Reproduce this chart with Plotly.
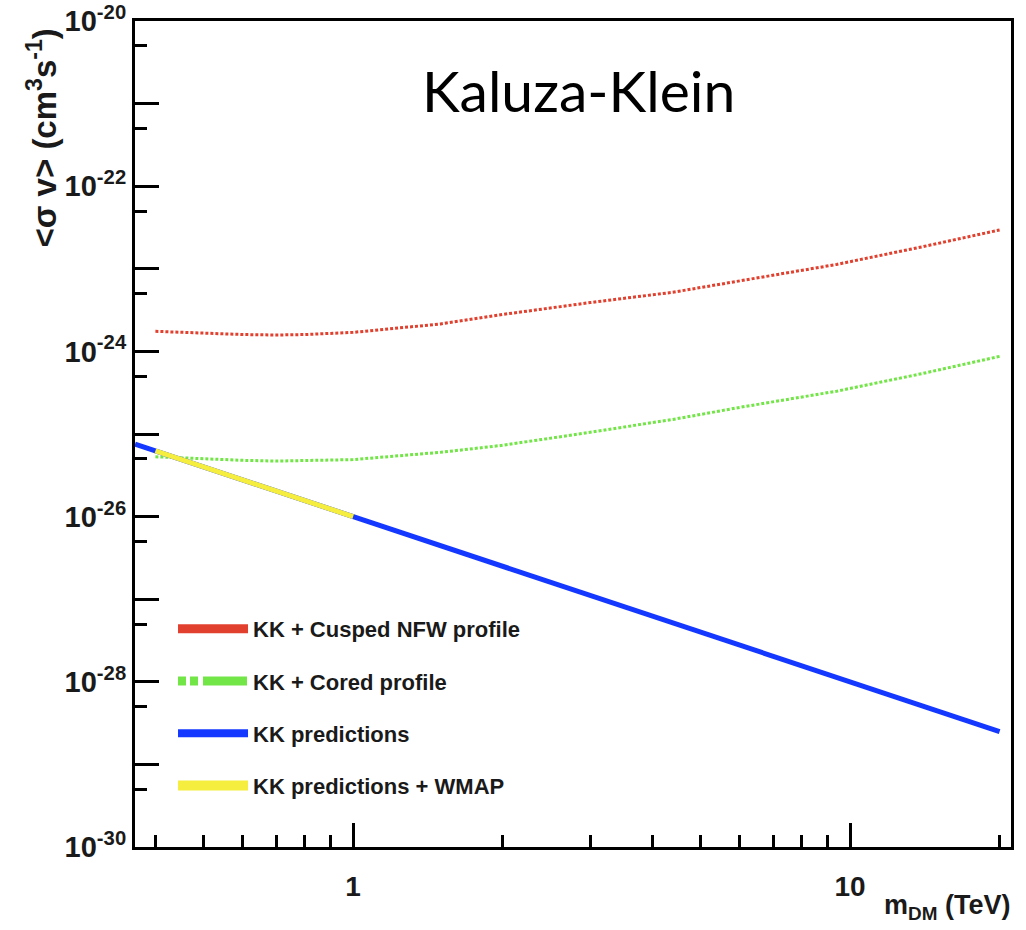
import plotly.graph_objects as go

# ---- data ----
m_red = [0.4, 0.5, 0.6, 0.7, 0.8, 1.0, 1.5, 2.0, 3.0, 4.4, 6.0, 9.4, 14, 20]
sv_red = [1.75e-24, 1.65e-24, 1.6e-24, 1.58e-24, 1.6e-24, 1.7e-24, 2.15e-24,
          2.8e-24, 3.9e-24, 5.2e-24, 7.1e-24, 1.13e-23, 1.85e-23, 2.95e-23]

m_green = [0.4, 0.5, 0.6, 0.7, 0.8, 1.0, 1.5, 2.0, 3.0, 4.4, 6.0, 9.4, 14, 20]
sv_green = [5.3e-26, 5.0e-26, 4.8e-26, 4.7e-26, 4.75e-26, 4.9e-26, 6.0e-26,
            7.3e-26, 1.05e-25, 1.5e-25, 2.1e-25, 3.3e-25, 5.4e-25, 8.7e-25]

m_blue = [0.364, 1.0, 20]
sv_blue = [7.55e-26, 1.0e-26, 2.5e-29]

m_yellow = [0.4, 1.0]
sv_yellow = [6.25e-26, 1.0e-26]

legend_names = ["KK + Cusped NFW profile", "KK + Cored profile",
                "KK predictions", "KK predictions + WMAP"]

y_major = [10.0 ** e for e in range(-30, -19)]
y_major_text = ["<b>10<sup>%d</sup></b>" % e if e % 2 == 0 else "" for e in range(-30, -19)]
y_minor = [5 * 10.0 ** e for e in range(-30, -20)]
x_major = [1, 10]
x_major_text = ["<b>1</b>", "<b>10</b>"]
x_minor = [0.4, 0.5, 0.6, 0.7, 0.8, 0.9, 2, 3, 4, 5, 6, 7, 8, 9, 20]

RED = "#e2402e"
GREEN = "#72e646"
BLUE = "#1438ff"
YELLOW = "#f6ee3e"
TXT = "#1a1a1a"

fig = go.Figure()

# plotted curves
fig.add_trace(go.Scatter(x=m_red, y=sv_red, mode="lines", showlegend=False,
                         line=dict(color=RED, width=3, dash="3px,2px")))
fig.add_trace(go.Scatter(x=m_green, y=sv_green, mode="lines", showlegend=False,
                         line=dict(color=GREEN, width=3, dash="3px,2px")))
fig.add_trace(go.Scatter(x=m_blue, y=sv_blue, mode="lines", showlegend=False,
                         line=dict(color=BLUE, width=5)))
fig.add_trace(go.Scatter(x=m_yellow, y=sv_yellow, mode="lines", showlegend=False,
                         line=dict(color=YELLOW, width=5)))

# legend entries
leg_styles = [
    dict(color=RED, width=9),
    dict(color=GREEN, width=9, dash="8px,4px,8px,5px,44px,200px"),
    dict(color=BLUE, width=8),
    dict(color=YELLOW, width=10),
]
for i, (name, st) in enumerate(zip(legend_names, leg_styles)):
    fig.add_trace(go.Scatter(x=[None], y=[None], mode="lines", name="<b>%s</b>" % name,
                             line=st, legendgroup="g%d" % i))

axis_common = dict(showline=True, linecolor="black", linewidth=3, mirror=True,
                   showgrid=False, zeroline=False, ticks="inside", ticklen=24,
                   tickwidth=3, tickcolor="black", automargin=False)

fig.update_xaxes(type="log", range=[-0.439, 1.324], tickmode="array",
                 tickvals=x_major, ticktext=x_major_text,
                 tickfont=dict(family="Liberation Sans", size=28, color=TXT),
                 ticklabelstandoff=12,
                 minor=dict(tickmode="array", tickvals=x_minor, ticks="inside",
                            ticklen=12, tickwidth=3, tickcolor="black"),
                 **axis_common)
fig.update_yaxes(type="log", range=[-30, -20], tickmode="array",
                 tickvals=y_major, ticktext=y_major_text,
                 tickfont=dict(family="Liberation Sans", size=29, color=TXT),
                 minor=dict(tickmode="array", tickvals=y_minor, ticks="inside",
                            ticklen=12, tickwidth=3, tickcolor="black"),
                 **axis_common)

fig.add_annotation(text="Kaluza-Klein", xref="paper", yref="paper",
                   x=0.506, y=0.917, xanchor="center", yanchor="middle", showarrow=False,
                   font=dict(family="Lato", size=57, color="black"))
fig.add_annotation(text="<b>&lt;σ v&gt; (cm<sup>3</sup>s<sup>-1</sup>)</b>",
                   xref="paper", yref="paper", textangle=-90,
                   x=-0.106, y=0.993, xanchor="center", yanchor="top", showarrow=False,
                   font=dict(family="Liberation Sans", size=33, color=TXT))
fig.add_annotation(text="<b>m<sub>DM</sub> (TeV)</b>", xref="paper", yref="paper",
                   x=1.001, y=-0.073, xanchor="right", yanchor="middle", showarrow=False,
                   font=dict(family="Liberation Sans", size=27, color=TXT))

fig.update_layout(
    width=1026, height=930,
    margin=dict(l=135, r=15, t=21, b=83),
    paper_bgcolor="white", plot_bgcolor="white",
    legend=dict(x=0.0434, y=0.2895, xanchor="left", yanchor="top",
                bgcolor="rgba(0,0,0,0)", itemwidth=70,
                traceorder="grouped", tracegroupgap=20.7,
                font=dict(family="Liberation Sans", size=22, color=TXT)),
)

fig.write_html("out.html")
